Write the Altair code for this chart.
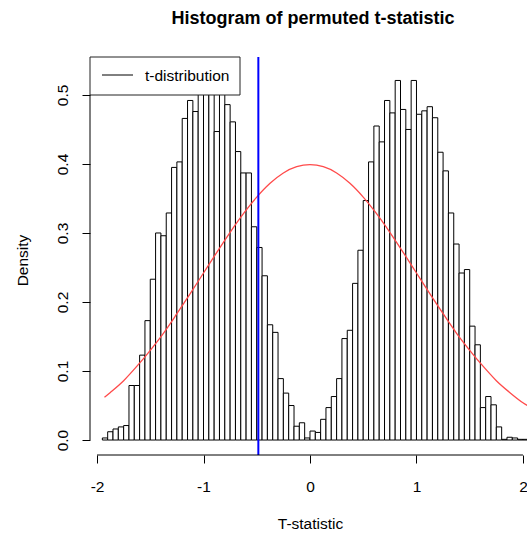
import altair as alt
import pandas as pd

# ---------------- data ----------------
bin_width = 0.05
bin_starts = [round(-1.95 + 0.05 * i, 2) for i in range(80)]
densities = [
    0.003, 0.012, 0.016, 0.019, 0.021, 0.079, 0.079, 0.123, 0.173, 0.233,
    0.300, 0.296, 0.329, 0.395, 0.403, 0.466, 0.492, 0.476, 0.515, 0.534,
    0.520, 0.447, 0.510, 0.486, 0.461, 0.418, 0.387, 0.387, 0.309, 0.279,
    0.238, 0.167, 0.156, 0.089, 0.068, 0.050, 0.020, 0.025, 0.003,
    0.013, 0.011, 0.030, 0.047, 0.063, 0.089, 0.147, 0.159, 0.227, 0.275,
    0.347, 0.403, 0.455, 0.432, 0.492, 0.474, 0.521, 0.479, 0.450, 0.521,
    0.472, 0.477, 0.483, 0.467, 0.417, 0.390, 0.329, 0.284, 0.242, 0.247,
    0.165, 0.138, 0.047, 0.063, 0.051, 0.019, 0.001, 0.004, 0.003, 0.001,
    0.001,
]

curve_x = [-1.93, -1.875, -1.75, -1.625, -1.5, -1.375, -1.25, -1.125, -1.0,
           -0.875, -0.75, -0.625, -0.5, -0.375, -0.25, -0.125, 0.0,
           0.125, 0.25, 0.375, 0.5, 0.625, 0.75, 0.875, 1.0, 1.125, 1.25,
           1.375, 1.5, 1.625, 1.75, 1.875, 2.0, 2.04]
curve_y = [0.062, 0.069, 0.086, 0.107, 0.130, 0.155, 0.183, 0.212, 0.242,
           0.272, 0.301, 0.328, 0.352, 0.372, 0.387, 0.396, 0.399,
           0.396, 0.387, 0.372, 0.352, 0.328, 0.301, 0.272, 0.242, 0.212, 0.183,
           0.155, 0.130, 0.107, 0.086, 0.069, 0.054, 0.050]

observed_t = [-0.485]
x_ticks = [-2, -1, 0, 1, 2]
y_ticks = [0.0, 0.1, 0.2, 0.3, 0.4, 0.5]
x_axis_span = [-2, 2]
y_axis_span = [0.0, 0.5]

title_text = "Histogram of permuted t-statistic"
x_title = "T-statistic"
y_title = "Density"
legend_label = "t-distribution"

# ---------------- layout ----------------
W, H = 437, 398
X_DOMAIN = [-2.066, 2.038]
Y_DOMAIN = [-0.0217, 0.555]
FONT = "Liberation Sans"
FS = 15.5

bars_df = pd.DataFrame({
    "start": bin_starts,
    "end": [round(s + bin_width, 2) for s in bin_starts],
    "density": densities,
    "base": [0.0] * len(bin_starts),
})
curve_df = pd.DataFrame({"x": curve_x, "y": curve_y})
vline_df = pd.DataFrame({"x": observed_t})
xline_df = pd.DataFrame({"x0": [x_axis_span[0]], "x1": [x_axis_span[1]]})
yline_df = pd.DataFrame({"y0": [y_axis_span[0]], "y1": [y_axis_span[1]]})
one_df = pd.DataFrame({"k": [0]})

xscale = alt.Scale(domain=X_DOMAIN, nice=False, zero=False)
yscale = alt.Scale(domain=Y_DOMAIN, nice=False, zero=False)

xaxis = alt.Axis(
    values=x_ticks, domain=False, grid=False,
    tickSize=8, tickColor="#000", tickWidth=1,
    labelFont=FONT, labelFontSize=FS, labelColor="#000",
    labelPadding=28, labelBaseline="alphabetic", labelFlush=False,
    labelOverlap=False,
    labelExpr="replace(datum.label, '\u2212', '-')",
    title=x_title, titleFont=FONT, titleFontSize=FS, titleFontWeight="normal",
    titleColor="#000", titleX=220, titleY=68, titleAlign="center",
    titleBaseline="middle",
)
yaxis = alt.Axis(
    values=y_ticks, format=".1f", domain=False, grid=False,
    tickSize=8, tickColor="#000", tickWidth=1,
    labelFont=FONT, labelFontSize=FS, labelColor="#000",
    labelAngle=270, labelAlign="center", labelBaseline="alphabetic",
    labelPadding=15, labelOverlap=False, labelFlush=False,
    title=y_title, titleFont=FONT, titleFontSize=FS, titleFontWeight="normal",
    titleColor="#000", titleAngle=270, titleX=-68, titleY=203,
    titleAlign="center", titleBaseline="middle",
)


def X(field):
    return alt.X(field, type="quantitative", scale=xscale, axis=xaxis)


def Y(field):
    return alt.Y(field, type="quantitative", scale=yscale, axis=yaxis)


bars = alt.Chart(bars_df).mark_rect(
    fill="white", stroke="#000", strokeWidth=1, clip=True
).encode(x=X("start"), x2="end", y=Y("density"), y2="base")

curve = alt.Chart(curve_df).mark_line(
    color="#ff4a4a", strokeWidth=1.3, interpolate="monotone", clip=True
).encode(x=X("x"), y=Y("y"))

vline = alt.Chart(vline_df).mark_rule(color="#0000ff", strokeWidth=2).encode(
    x=X("x")
)

xline = alt.Chart(xline_df).mark_rule(color="#000", strokeWidth=1).encode(
    x=X("x0"), x2="x1", y=alt.value(H)
)
yline = alt.Chart(yline_df).mark_rule(color="#000", strokeWidth=1).encode(
    y=Y("y0"), y2="y1", x=alt.value(0)
)

leg_box = alt.Chart(one_df).mark_rect(
    fill="white", stroke="#222", strokeWidth=1
).encode(x=alt.value(0), x2=alt.value(150), y=alt.value(0), y2=alt.value(38))
leg_line = alt.Chart(one_df).mark_rule(color="#000", strokeWidth=1).encode(
    x=alt.value(12), x2=alt.value(43), y=alt.value(18)
)
leg_text = alt.Chart(one_df).mark_text(
    text=legend_label, font=FONT, fontSize=FS, align="left", baseline="middle",
    color="#000"
).encode(x=alt.value(55), y=alt.value(18.5))

title = alt.Chart(one_df).mark_text(
    text=title_text, font=FONT, fontSize=18, fontWeight="bold",
    align="center", baseline="alphabetic", color="#000"
).encode(x=alt.value(223), y=alt.value(-33))

chart = alt.layer(
    bars, curve, vline, xline, yline, leg_box, leg_line, leg_text, title
).properties(
    width=W, height=H,
    padding={"left": 90, "top": 57, "right": 0, "bottom": 78},
    autosize=alt.AutoSizeParams(type="none"),
    background="white",
).configure_view(stroke=None)

chart.save("out.html", embed_options={"renderer": "svg", "actions": False})
